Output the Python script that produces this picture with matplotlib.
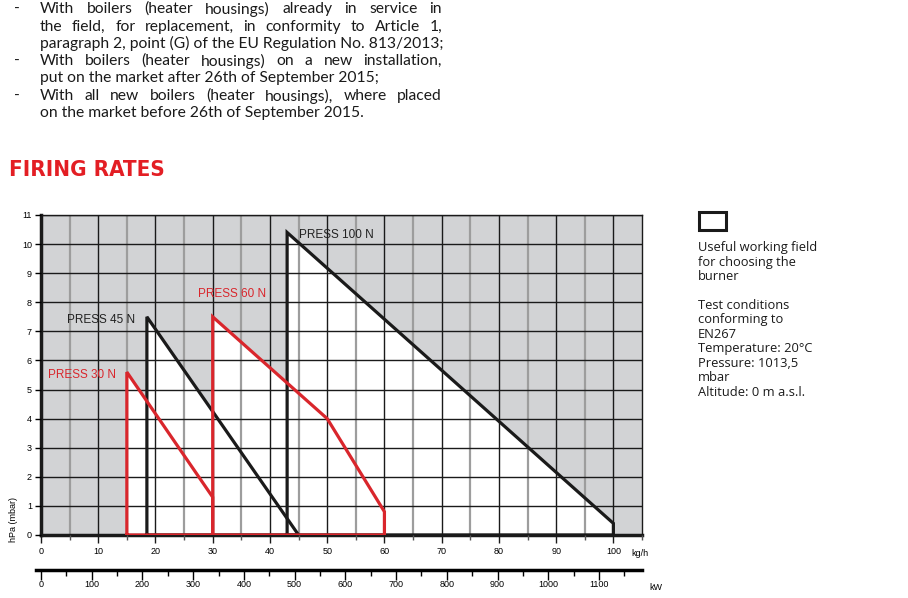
import numpy as np
import matplotlib
matplotlib.use('Agg')
import matplotlib.pyplot as plt
from matplotlib.patches import Polygon, Rectangle

# firing rate curves (x in kg/h, y in hPa)
press30_x = [15, 15, 30, 30]
press30_y = [0, 5.6, 1.3, 0]
press45_x = [18.5, 18.5, 45]
press45_y = [0, 7.5, 0]
press60_x = [30, 30, 50, 60, 60]
press60_y = [0, 7.5, 4.0, 0.8, 0]
press100_x = [43, 43, 100, 100]
press100_y = [0, 10.4, 0.4, 0]

labels = ['PRESS 30 N', 'PRESS 45 N', 'PRESS 60 N', 'PRESS 100 N']
label_pos = [(1.2, 5.5), (4.6, 7.4), (27.5, 8.3), (45.0, 10.3)]
label_col = ['#d9262c', '#222222', '#d9262c', '#222222']

kgh_ticks = np.arange(0, 101, 10)
kw_ticks = np.arange(0, 1101, 100)
y_ticks = np.arange(0, 12, 1)

bullet_lines = [
    ("With boilers (heater housings) already in service in", True, True),
    ("the field, for replacement, in conformity to Article 1,", True, False),
    ("paragraph 2, point (G) of the EU Regulation No. 813/2013;", False, False),
    ("With boilers (heater housings) on a new installation,", True, True),
    ("put on the market after 26th of September 2015;", False, False),
    ("With all new boilers (heater housings), where placed", True, True),
    ("on the market before 26th of September 2015.", False, False),
]
side_lines = ["Useful working field", "for choosing the", "burner", "",
              "Test conditions", "conforming to", "EN267",
              "Temperature: 20°C", "Pressure: 1013,5", "mbar",
              "Altitude: 0 m a.s.l."]

RED = '#d9262c'
W, H = 908, 598
fig = plt.figure(figsize=(W / 100, H / 100), dpi=100)
renderer = fig.canvas.get_renderer()

def px(x, y):
    return x / W, 1 - y / H

def width_of(s, **kw):
    t = fig.text(0, 0, s, **kw)
    w = t.get_window_extent(renderer).width
    t.remove()
    return w

# ---- top paragraph, justified ----
tfont = dict(family=['Lato', 'DejaVu Sans'], color='#1a1a1a')
fs_top = 10 * 402 / width_of(bullet_lines[2][0], fontsize=10, **tfont)
space_w = width_of('a a', fontsize=fs_top, **tfont) - width_of('aa', fontsize=fs_top, **tfont)
line_y = [9, 26.7, 43.5, 61, 78, 96, 112.7]
for (line, just, bullet), yy in zip(bullet_lines, line_y):
    if bullet:
        fig.text(*px(14, yy), '-', fontsize=fs_top, va='center', **tfont)
    if not just:
        fig.text(*px(40, yy), line, fontsize=fs_top, va='center', **tfont)
        continue
    words = line.split()
    nat = width_of(line, fontsize=fs_top, **tfont)
    extra = (402 - nat) / (len(words) - 1)
    x = 40
    for w in words:
        fig.text(*px(x, yy), w, fontsize=fs_top, va='center', **tfont)
        x += width_of(w, fontsize=fs_top, **tfont) + space_w + extra

# title
tt = dict(fontweight='bold', color='#e31e24', family=['DejaVu Sans'], fontstretch='condensed')
fig.text(*px(9, 170), 'FIRING RATES', fontsize=16, va='center', **tt)

# ---- main chart ----
x0, x1, y0, y1 = 41, 642, 215, 535
ax = fig.add_axes([x0 / W, 1 - y1 / H, (x1 - x0) / W, (y1 - y0) / H])
ax.set_xlim(0, 105)
ax.set_ylim(0, 11)
ax.set_facecolor('#d2d3d5')

polys = [(press30_x, press30_y), (press45_x, press45_y),
         (press60_x, press60_y), (press100_x, press100_y)]
for xs, ys in polys:
    ax.add_patch(Polygon(np.column_stack([xs, ys]), closed=True, fc='white', ec='none', zorder=1))

for v in np.arange(5, 105, 5):
    if v % 10 == 0:
        ax.axvline(v, color='#1a1a1a', lw=1.0, zorder=2)
    else:
        ax.axvline(v, color='#9d9d9d', lw=1.6, zorder=2)
for h in y_ticks[1:]:
    ax.axhline(h, color='#1a1a1a', lw=1.0, zorder=2)

ax.plot(press45_x + [18.5], press45_y + [0], color='#1a1a1a', lw=2.3, zorder=3, solid_joinstyle='miter')
ax.plot(press100_x + [43], press100_y + [0], color='#1a1a1a', lw=2.3, zorder=3, solid_joinstyle='miter')
ax.plot(press30_x + [15], press30_y + [0], color=RED, lw=2.3, zorder=4, solid_joinstyle='miter')
ax.plot(press60_x + [30], press60_y + [0], color=RED, lw=2.3, zorder=4, solid_joinstyle='miter')

for lab, (lx, ly), c in zip(labels, label_pos, label_col):
    ax.text(lx, ly, lab, color=c, fontsize=8.5, ha='left', va='center',
            family=['Liberation Sans', 'DejaVu Sans'], zorder=5)

for s in ['top', 'right']:
    ax.spines[s].set_color('#1a1a1a')
    ax.spines[s].set_linewidth(1.0)
ax.spines['left'].set_linewidth(2.5)
ax.spines['bottom'].set_linewidth(2.5)
ax.spines['left'].set_color('#1a1a1a')
ax.spines['bottom'].set_color('#1a1a1a')

ax.set_xticks(kgh_ticks)
ax.set_xticks(np.arange(5, 106, 10), minor=True)
ax.set_yticks(y_ticks)
ax.tick_params(axis='x', which='major', length=6, width=1, pad=3, labelsize=6.5, color='#1a1a1a')
ax.tick_params(axis='x', which='minor', length=3.5, width=1, color='#555555')
ax.tick_params(axis='y', length=4.5, width=1, pad=2, labelsize=6.5)
for t in ax.get_xticklabels() + ax.get_yticklabels():
    t.set_family(['Liberation Sans', 'DejaVu Sans'])
ax.set_axisbelow(False)

fig.text(*px(631, 553), 'kg/h', fontsize=6.5, va='center', ha='left', family=['Liberation Sans', 'DejaVu Sans'])
fig.text(*px(14, 520), 'hPa (mbar)', fontsize=6.5, rotation=90, va='center', ha='center',
         family=['Liberation Sans', 'DejaVu Sans'])

# ---- kW axis ----
kw_per_px = 1100 / (599 - 41)
ax2 = fig.add_axes([36 / W, 1 - 570 / H, (642 - 36) / W, 0.0001])
ax2.set_xlim(-5 * kw_per_px, (642 - 41) * kw_per_px)
ax2.set_yticks([])
for s in ['top', 'right', 'left']:
    ax2.spines[s].set_visible(False)
ax2.spines['bottom'].set_linewidth(2.5)
ax2.patch.set_visible(False)
ax2.set_xticks(kw_ticks)
ax2.set_xticks(np.arange(50, 1151, 100), minor=True)
ax2.tick_params(axis='x', which='major', length=7, width=1, pad=0.5, labelsize=6.5)
ax2.tick_params(axis='x', which='minor', length=4.5, width=1)
for t in ax2.get_xticklabels():
    t.set_family(['Liberation Sans', 'DejaVu Sans'])
fig.text(*px(649, 587), 'kW', fontsize=6.5, va='center', ha='left', family=['Liberation Sans', 'DejaVu Sans'])

# ---- side legend ----
fig.patches.append(Rectangle(px(699, 230), 27 / W, 18 / H, transform=fig.transFigure,
                             fc='white', ec='#1a1a1a', lw=2.2))
sfont = dict(family=['Open Sans', 'DejaVu Sans'], color='#1a1a1a')
fs_side = 9 * 120 / width_of(side_lines[0], fontsize=9, **sfont)
for i, s in enumerate(side_lines):
    fig.text(*px(698, 248 + i * 14.4), s, va='center', ha='left', fontsize=fs_side, **sfont)

fig.savefig('out.png', dpi=100)
